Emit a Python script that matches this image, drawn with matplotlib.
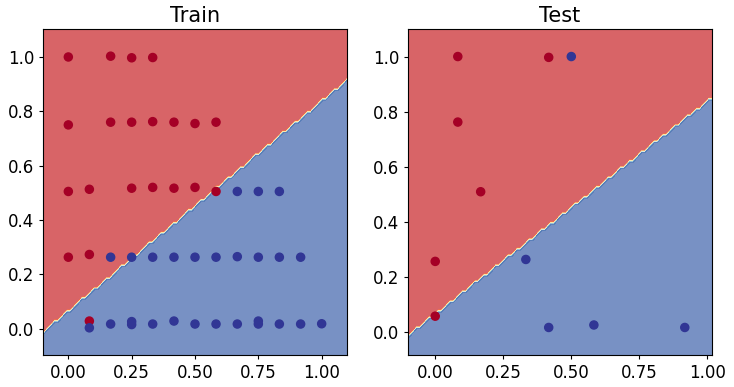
import numpy as np
import matplotlib
matplotlib.use("Agg")
import matplotlib.pyplot as plt

# ---- Data ----
# Train set: x, y coordinates and labels (0 = red, 1 = blue)
train_x = [0.0, 0.167, 0.25, 0.333,
           0.0, 0.167, 0.25, 0.333, 0.417, 0.5, 0.583,
           0.0, 0.083, 0.25, 0.333, 0.417, 0.5, 0.583, 0.667, 0.75, 0.833,
           0.0, 0.083, 0.167, 0.25, 0.333, 0.417, 0.5, 0.583, 0.667, 0.75, 0.833, 0.917,
           0.083, 0.083, 0.167, 0.25, 0.25, 0.333, 0.417, 0.5, 0.583, 0.667, 0.75, 0.75, 0.833, 0.917, 1.0]
train_y = [1.0, 1.003, 0.997, 0.998,
           0.75, 0.76, 0.76, 0.762, 0.76, 0.755, 0.76,
           0.505, 0.513, 0.517, 0.52, 0.517, 0.52, 0.505, 0.505, 0.505, 0.505,
           0.263, 0.273, 0.263, 0.263, 0.263, 0.263, 0.263, 0.263, 0.265, 0.263, 0.263, 0.263,
           0.028, 0.003, 0.017, 0.026, 0.015, 0.017, 0.028, 0.017, 0.017, 0.017, 0.028, 0.017, 0.017, 0.017, 0.018]
train_label = [0, 0, 0, 0,
               0, 0, 0, 0, 0, 0, 0,
               0, 0, 0, 0, 0, 0, 0, 1, 1, 1,
               0, 0, 1, 1, 1, 1, 1, 1, 1, 1, 1, 1,
               0, 1, 1, 1, 1, 1, 1, 1, 1, 1, 1, 1, 1, 1, 1]

# Test set
test_x = [0.083, 0.083, 0.167, 0.0, 0.0, 0.417, 0.5, 0.333, 0.417, 0.583, 0.917]
test_y = [1.0, 0.762, 0.509, 0.256, 0.057, 0.997, 1.0, 0.263, 0.016, 0.025, 0.016]
test_label = [0, 0, 0, 0, 0, 0, 1, 1, 1, 1, 1]

# Linear model parameters (decision boundary y = 0.773 x + 0.064)
w_x = 7.73
w_y = -10.0
bias = 0.64

titles = ["Train", "Test"]


def predict(xx, yy):
    logits = w_x * xx + w_y * yy + bias
    return np.round(1.0 / (1.0 + np.exp(-logits)))


def plot_decision_boundary(ax, xs, ys, labels):
    xs = np.asarray(xs)
    ys = np.asarray(ys)
    x_min, x_max = xs.min() - 0.1, xs.max() + 0.1
    y_min, y_max = ys.min() - 0.1, ys.max() + 0.1
    xx, yy = np.meshgrid(np.linspace(x_min, x_max, 101), np.linspace(y_min, y_max, 101))
    zz = predict(xx, yy)
    ax.contourf(xx, yy, zz, cmap=plt.cm.RdYlBu, alpha=0.7)
    ax.scatter(xs, ys, c=labels, s=34, cmap=plt.cm.RdYlBu, vmin=0, vmax=1)
    ax.set_xlim(x_min, x_max)
    ax.set_ylim(y_min, y_max)


W, H = 734, 387
fig = plt.figure(figsize=(W / 100, H / 100), dpi=100)
ax1 = fig.add_axes([43 / W, 32 / H, 304 / W, 326 / H])
ax2 = fig.add_axes([408 / W, 32 / H, 304 / W, 326 / H])

plot_decision_boundary(ax1, train_x, train_y, train_label)
plot_decision_boundary(ax2, test_x, test_y, test_label)

for ax, t in zip([ax1, ax2], titles):
    ax.set_title(t, fontsize=15, pad=4.8)
    ax.tick_params(labelsize=12, length=2.9)
    ax.set_yticks([0.0, 0.2, 0.4, 0.6, 0.8, 1.0])
    ax.set_xticks([0.0, 0.25, 0.5, 0.75, 1.0])

fig.savefig("out.png", dpi=100)
